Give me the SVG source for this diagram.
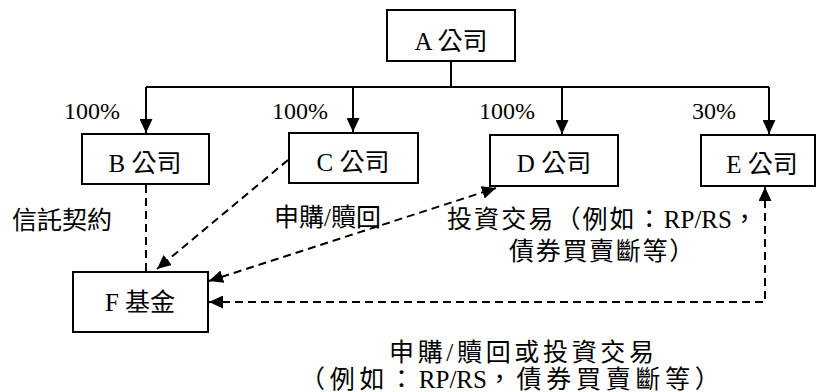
<svg xmlns="http://www.w3.org/2000/svg" width="820" height="392" viewBox="0 0 820 392">
<style>
text { font-family: "Liberation Serif", "Noto Sans CJK TC", serif; font-size: 25px; fill: #000; }
.pct { font-size: 24px; }
.box { fill: #fff; stroke: #000; stroke-width: 2; }
.solid { fill: none; stroke: #000; stroke-width: 2; }
.dash { fill: none; stroke: #000; stroke-width: 2; stroke-dasharray: 8 5; }
.mid { text-anchor: middle; }
</style>
<defs>
<marker id="ah" viewBox="0 0 14 13" refX="14" refY="6.5" markerWidth="14" markerHeight="13" markerUnits="userSpaceOnUse" orient="auto-start-reverse">
<path d="M0,0 L14,6.5 L0,13 z" fill="#000"/>
</marker>
</defs>
<rect width="820" height="392" fill="#fff"/>
<g id="connectors">
<path class="solid" d="M451,61 V87 M146,87 H769"/>
<path class="solid" d="M146,87 V133" marker-end="url(#ah)"/>
<path class="solid" d="M353,87 V132" marker-end="url(#ah)"/>
<path class="solid" d="M562,87 V134" marker-end="url(#ah)"/>
<path class="solid" d="M769,87 V134" marker-end="url(#ah)"/>
<path class="dash" d="M146,185 V272"/>
<path class="dash" d="M288,160 L157,269" marker-end="url(#ah)"/>
<path class="dash" d="M209,281 L496,188" marker-start="url(#ah)" marker-end="url(#ah)"/>
<path class="dash" d="M209,302 H765 V187" marker-start="url(#ah)" marker-end="url(#ah)"/>
</g>
<g id="nodeA"><rect class="box" x="387" y="10" width="128" height="51"/><text class="mid" x="451" y="50">A 公司</text></g>
<g id="nodeB"><rect class="box" x="82" y="134" width="127" height="50"/><text class="mid" x="145" y="172">B 公司</text></g>
<g id="nodeC"><rect class="box" x="289" y="133" width="129" height="50"/><text class="mid" x="353" y="171">C 公司</text></g>
<g id="nodeD"><rect class="box" x="490" y="135" width="128" height="51"/><text class="mid" x="554" y="172">D 公司</text></g>
<g id="nodeE"><rect class="box" x="701" y="135" width="114" height="51"/><text class="mid" x="762" y="173">E 公司</text></g>
<g id="nodeF"><rect class="box" x="73" y="272" width="135" height="60"/><text class="mid" x="140" y="311">F 基金</text></g>
<g id="labels">
<text class="pct" x="64" y="119">100%</text>
<text class="pct" x="272" y="119">100%</text>
<text class="pct" x="479" y="119">100%</text>
<text class="pct" x="692" y="119">30%</text>
<text x="12" y="229">信託契約</text>
<text x="274" y="226">申購/贖回</text>
<text x="447" y="228"><tspan letter-spacing="2.1">投資交易（例如：</tspan>RP/RS，</text>
<text x="509" y="260" letter-spacing="1.7">債券買賣斷等）</text>
<text x="389" y="361" textLength="265" lengthAdjust="spacing">申購/贖回或投資交易</text>
<text x="300" y="388"><tspan letter-spacing="4.7">（例如：</tspan>RP/RS<tspan letter-spacing="4.7">，債券買賣斷等）</tspan></text>
</g>
</svg>
